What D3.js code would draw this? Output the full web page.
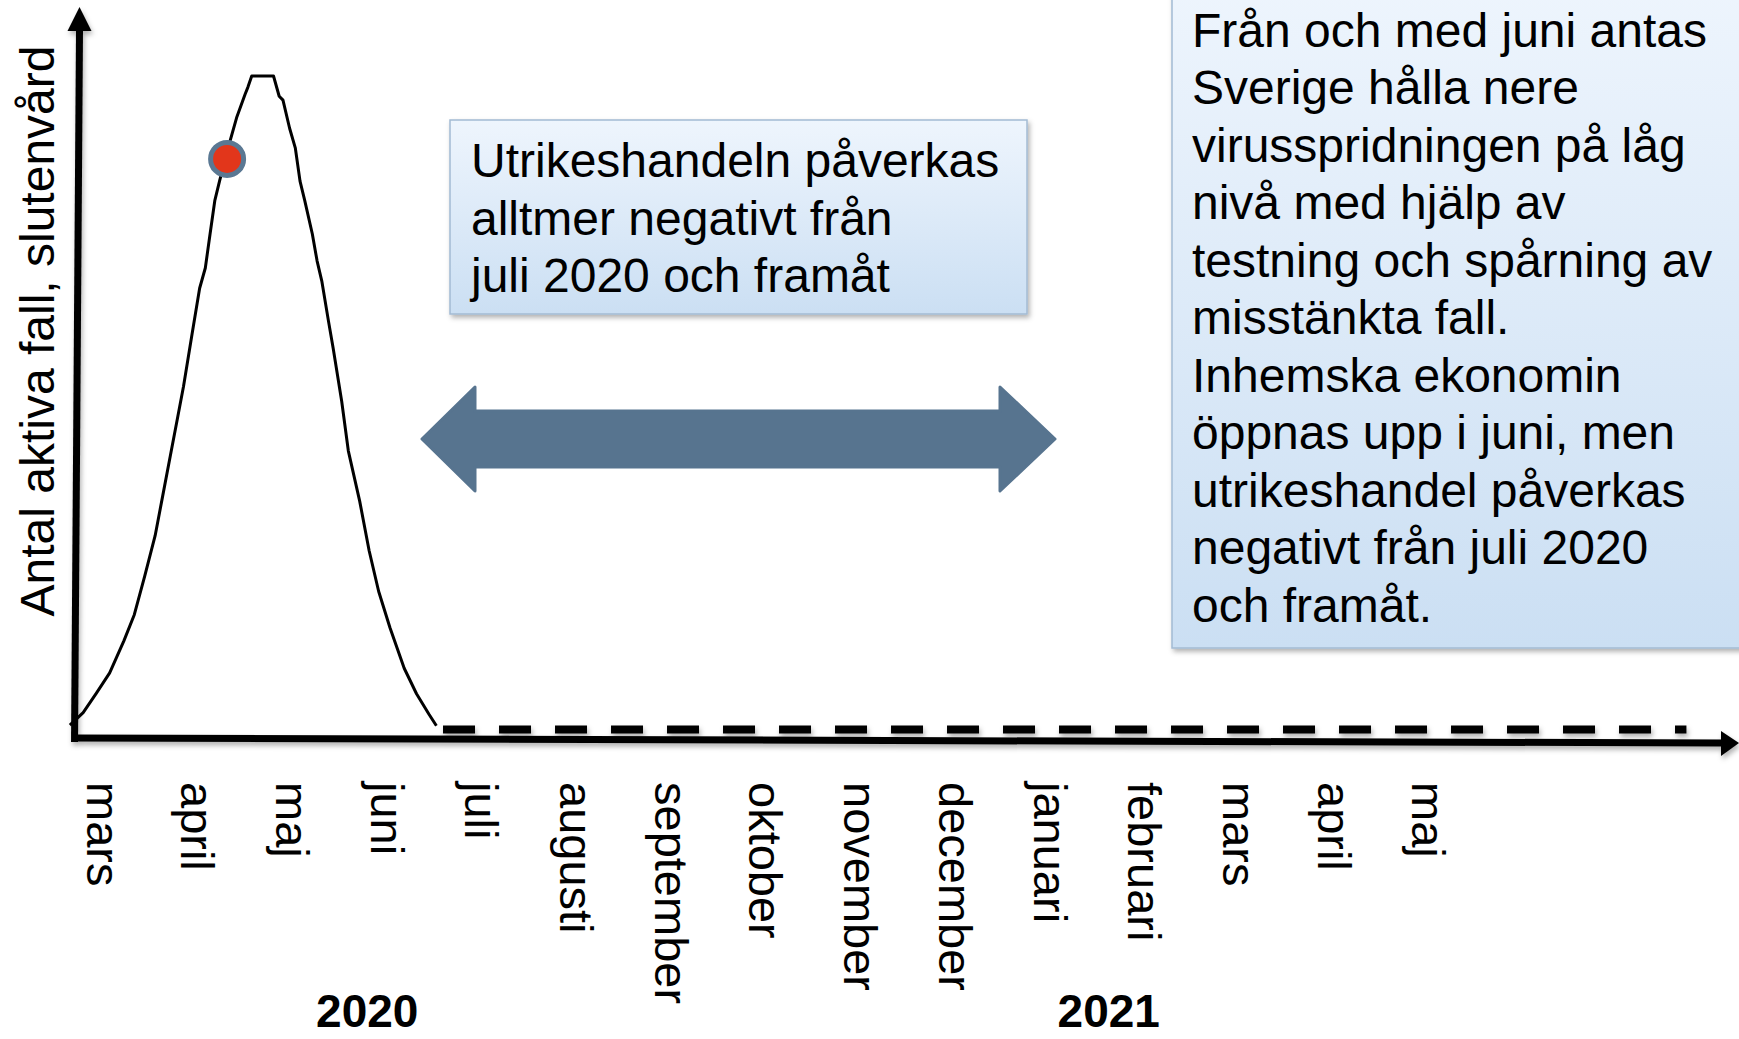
<!DOCTYPE html>
<html><head><meta charset="utf-8">
<script src="https://cdn.jsdelivr.net/npm/d3@7"></script>
<style>
html,body{margin:0;padding:0;background:#fff;}
svg{display:block;font-family:"Liberation Sans",Arial,sans-serif;}
</style></head>
<body>
<svg id="c" width="1739" height="1039"></svg>
<script>
// ---- data ----
const monthLabels = ["mars","april","maj","juni","juli","augusti","september","oktober","november","december","januari","februari","mars","april","maj"];
const yearLabels = ["2020","2021"];
const yearPositions = [2.97, 10.8];           // in month units
const curveMonth = [-0.17,-0.03,0.11,0.25,0.40,0.51,0.62,0.73,0.81,0.89,0.97,1.03,1.12,1.20,1.26,1.31,1.36,1.41,1.52,1.59,1.68,1.71,1.75,1.98,2.04,2.08,2.15,2.21,2.26,2.31,2.39,2.44,2.49,2.56,2.61,2.70,2.77,2.89,2.99,3.09,3.21,3.36,3.49,3.62,3.70];
const curveValue = [0.6,2.5,5.5,8.6,13.5,17.5,23.4,29.6,35.7,41.8,47.9,52.5,60.5,67.5,70.6,75.8,80.9,83.9,90.0,93.6,97.2,98.3,100,100,96.9,96.3,92.0,89.0,83.9,80.9,75.8,71.7,68.6,62.5,58.3,50.2,42.6,34.9,27.3,21.1,15.5,9.3,5.4,2.3,0.5];
const projectionMonth = [3.77, 16.9];
const projectionValue = [0, 0];
const markerMonth = [1.49];
const markerValue = [87.3];
const yAxisTitle = "Antal aktiva fall, slutenvård";
const box1Lines = ["Utrikeshandeln påverkas","alltmer negativt från","juli 2020 och framåt"];
const box2Lines = ["Från och med juni antas","Sverige hålla nere","virusspridningen på låg","nivå med hjälp av","testning och spårning av","misstänkta fall.","Inhemska ekonomin","öppnas upp i juni, men","utrikeshandel påverkas","negativt från juli 2020","och framåt."];

// ---- scales ----
const x = d3.scaleLinear().domain([0, 14]).range([86, 86 + 14 * 94.7]);
const y = d3.scaleLinear().domain([0, 100]).range([729, 76]);

const svg = d3.select("#c");
const defs = svg.append("defs");
const sh = defs.append("filter").attr("id","shadow").attr("x","-10%").attr("y","-10%").attr("width","120%").attr("height","130%");
sh.append("feDropShadow").attr("dx",1.5).attr("dy",3.5).attr("stdDeviation",2.5).attr("flood-color","#000").attr("flood-opacity",0.3);
const sh2 = defs.append("filter").attr("id","shadow2").attr("x","-5%").attr("y","-5%").attr("width","115%").attr("height","115%");
sh2.append("feDropShadow").attr("dx",2).attr("dy",3).attr("stdDeviation",2.5).attr("flood-color","#000").attr("flood-opacity",0.3);
const grad = defs.append("linearGradient").attr("id","boxg").attr("x1",0).attr("y1",0).attr("x2",0).attr("y2",1);
grad.append("stop").attr("offset","0%").attr("stop-color","#eef5fd");
grad.append("stop").attr("offset","100%").attr("stop-color","#cbdff3");

// ---- text boxes ----
const b1 = svg.append("g");
b1.append("rect").attr("x",450).attr("y",120).attr("width",577).attr("height",194)
  .attr("fill","url(#boxg)").attr("stroke","#a3bbd3").attr("stroke-width",1.5).attr("filter","url(#shadow2)");
b1.selectAll("text").data(box1Lines).join("text")
  .attr("x",471).attr("y",(d,i)=>177 + i*57.5)
  .attr("font-size",48).attr("fill","#000").text(d=>d);

const b2 = svg.append("g");
b2.append("rect").attr("x",1172).attr("y",-20).attr("width",620).attr("height",668)
  .attr("fill","url(#boxg)").attr("stroke","#a3bbd3").attr("stroke-width",1.5).attr("filter","url(#shadow2)");
b2.selectAll("text").data(box2Lines).join("text")
  .attr("x",1192).attr("y",(d,i)=>46.5 + i*57.5)
  .attr("font-size",48).attr("fill","#000").text(d=>d);

// ---- double arrow ----
const arrowPts = [[422,439],[475,387],[475,411],[1000,411],[1000,387],[1055,439],[1000,491],[1000,467],[475,467],[475,491]];
svg.append("path").attr("d", d3.line()(arrowPts) + "Z")
  .attr("fill","#57748f").attr("stroke","#57748f").attr("stroke-width",3).attr("stroke-linejoin","round");

// ---- axes (arrows) ----
const axesG = svg.append("g").attr("filter","url(#shadow)");
const yAxX = x(-0.1);
axesG.append("line").attr("x1",yAxX-2).attr("y1",742).attr("x2",yAxX+3).attr("y2",26)
  .attr("stroke","#000").attr("stroke-width",7);
axesG.append("path").attr("d",`M${yAxX+3},7 L${yAxX+15},31 L${yAxX-9},31 Z`).attr("fill","#000");
axesG.append("line").attr("x1",yAxX-3).attr("y1",738).attr("x2",1724).attr("y2",743)
  .attr("stroke","#000").attr("stroke-width",7);
axesG.append("path").attr("d","M1739,743 L1721,731 L1721,756 Z").attr("fill","#000");

// dashed projection
const projData = projectionMonth.map((m,i)=>[m, projectionValue[i]]);
axesG.append("path").datum(projData)
  .attr("d", d3.line().x(d=>x(d[0])).y(d=>y(d[1]) + 0.5))
  .attr("fill","none").attr("stroke","#000").attr("stroke-width",8).attr("stroke-dasharray","32 24");

// ---- curve ----
const curveData = curveMonth.map((m,i)=>[m, curveValue[i]]);
svg.append("path").datum(curveData)
  .attr("d", d3.line().x(d=>x(d[0])).y(d=>y(d[1])))
  .attr("fill","none").attr("stroke","#000").attr("stroke-width",3).attr("stroke-linejoin","round");

// marker
svg.selectAll("circle.mk").data(markerMonth.map((m,i)=>[m, markerValue[i]])).join("circle")
  .attr("class","mk").attr("cx",d=>x(d[0])).attr("cy",d=>y(d[1])).attr("r",16.5)
  .attr("fill","#e2361b").attr("stroke","#5a7893").attr("stroke-width",5);

// ---- month tick labels via axis ----
const xAxis = d3.axisBottom(x).tickValues(d3.range(monthLabels.length))
  .tickFormat(i => monthLabels[i]).tickSize(0);
const gx = svg.append("g").attr("transform","translate(0,782)").call(xAxis);
gx.select(".domain").remove();
gx.selectAll(".tick text")
  .attr("x",0).attr("y",0).attr("dy",null)
  .attr("transform","rotate(90)")
  .attr("text-anchor","start")
  .attr("font-size",47).attr("font-family","'Liberation Sans', Arial, sans-serif").attr("fill","#000");

// years
svg.selectAll("text.year").data(yearLabels).join("text").attr("class","year")
  .attr("x",(d,i)=>x(yearPositions[i])).attr("y",1027)
  .attr("text-anchor","middle").attr("font-size",46).attr("font-weight","bold").text(d=>d);

// y-axis title
svg.append("text").attr("transform","translate(54,331) rotate(-90)")
  .attr("text-anchor","middle").attr("font-size",48).text(yAxisTitle);
</script>
</body></html>
